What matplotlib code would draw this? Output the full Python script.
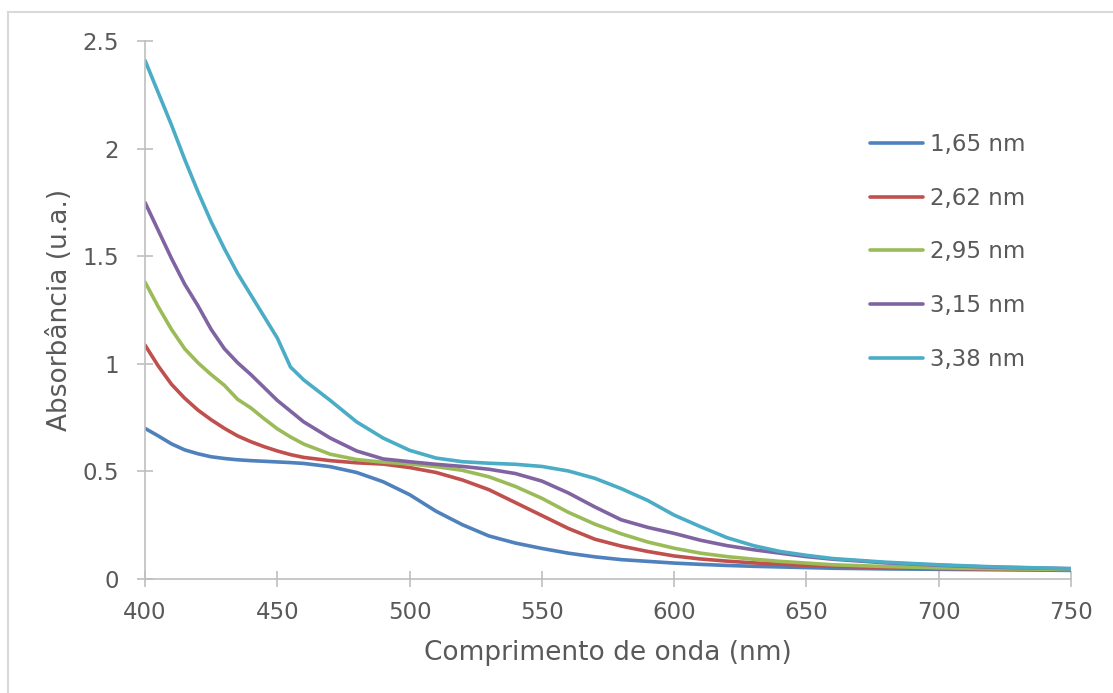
import matplotlib
matplotlib.use("Agg")
import matplotlib.pyplot as plt
from matplotlib.lines import Line2D

wavelength = [400, 405, 410, 415, 420, 425, 430, 435, 440, 445, 450, 455, 460,
              470, 480, 490, 500, 510, 520, 530, 540, 550, 560, 570, 580, 590,
              600, 610, 620, 630, 640, 650, 660, 680, 700, 720, 750]

abs_165 = [0.70, 0.665, 0.628, 0.600, 0.582, 0.568, 0.560, 0.554, 0.550, 0.547, 0.544, 0.541, 0.537,
           0.522, 0.495, 0.452, 0.392, 0.315, 0.252, 0.200, 0.167, 0.142, 0.120, 0.103, 0.090, 0.082,
           0.074, 0.068, 0.063, 0.059, 0.056, 0.053, 0.050, 0.047, 0.045, 0.043, 0.040]

abs_262 = [1.087, 0.990, 0.905, 0.840, 0.785, 0.740, 0.700, 0.665, 0.638, 0.615, 0.595, 0.578, 0.565,
           0.550, 0.540, 0.534, 0.518, 0.495, 0.460, 0.415, 0.355, 0.295, 0.235, 0.185, 0.153, 0.128,
           0.107, 0.093, 0.083, 0.075, 0.069, 0.063, 0.059, 0.053, 0.049, 0.046, 0.043]

abs_295 = [1.38, 1.265, 1.160, 1.070, 1.005, 0.950, 0.900, 0.835, 0.795, 0.745, 0.698, 0.660, 0.627,
           0.580, 0.555, 0.543, 0.535, 0.522, 0.505, 0.475, 0.430, 0.375, 0.310, 0.255, 0.210, 0.172,
           0.143, 0.120, 0.104, 0.092, 0.082, 0.074, 0.066, 0.058, 0.052, 0.048, 0.044]

abs_315 = [1.75, 1.620, 1.490, 1.370, 1.270, 1.160, 1.070, 1.005, 0.950, 0.890, 0.830, 0.780, 0.730,
           0.655, 0.595, 0.558, 0.545, 0.533, 0.523, 0.510, 0.490, 0.455, 0.400, 0.335, 0.275, 0.240,
           0.212, 0.180, 0.155, 0.136, 0.120, 0.104, 0.092, 0.075, 0.064, 0.055, 0.048]

abs_338 = [2.41, 2.260, 2.110, 1.950, 1.800, 1.660, 1.535, 1.420, 1.320, 1.220, 1.120, 0.985, 0.925,
           0.830, 0.730, 0.655, 0.598, 0.562, 0.545, 0.538, 0.533, 0.523, 0.502, 0.468, 0.420, 0.365,
           0.297, 0.243, 0.192, 0.155, 0.128, 0.110, 0.095, 0.078, 0.066, 0.057, 0.048]

labels = ["1,65 nm", "2,62 nm", "2,95 nm", "3,15 nm", "3,38 nm"]
series = [abs_165, abs_262, abs_295, abs_315, abs_338]
colors = ["#4F81BD", "#C0504D", "#9BBB59", "#8064A2", "#4BACC6"]

x_ticks = [400, 450, 500, 550, 600, 650, 700, 750]
y_ticks = [0, 0.5, 1, 1.5, 2, 2.5]
y_ticklabels = ["0", "0.5", "1", "1.5", "2", "2.5"]

W, H = 1113, 693
fig = plt.figure(figsize=(W / 100, H / 100), dpi=100)
ax = fig.add_axes([145 / W, 1 - 579 / H, (1071 - 145) / W, (579 - 41) / H])

for vals, lab, col in zip(series, labels, colors):
    ax.plot(wavelength, vals, color=col, lw=2.6, label=lab,
            solid_capstyle="round", solid_joinstyle="round")

ax.set_xlim(400, 750)
ax.set_ylim(0, 2.5)
ax.set_xticks(x_ticks)
ax.set_yticks(y_ticks)
ax.set_yticklabels(y_ticklabels)

grey = "#BFBFBF"
for s in ["top", "right"]:
    ax.spines[s].set_visible(False)
for s in ["left", "bottom"]:
    ax.spines[s].set_color(grey)
    ax.spines[s].set_linewidth(1.2)
ax.tick_params(axis="both", direction="inout", length=11, width=1.2, color=grey,
               labelsize=16.5, labelcolor="#595959")
ax.tick_params(axis="y", pad=13)
ax.tick_params(axis="x", pad=10)

ax.set_xlabel("Comprimento de onda (nm)", fontsize=19, color="#595959")
ax.set_ylabel("Absorbância (u.a.)", fontsize=19, color="#595959")
ax.xaxis.set_label_coords((608 - 145) / (1071 - 145), -(653 - 579) / (579 - 41))
ax.yaxis.set_label_coords(-(145 - 60) / (1071 - 145), (579 - 310) / (579 - 41))
ax.xaxis.label.set_va("center")
ax.yaxis.label.set_va("center")

leg = ax.legend(loc="upper left", bbox_to_anchor=(870 / W, 1 - 133 / H),
                bbox_transform=fig.transFigure, frameon=False, fontsize=16.5,
                handlelength=2.3, handletextpad=0.3, labelspacing=1.34, borderpad=0,
                borderaxespad=0)
for t in leg.get_texts():
    t.set_color("#595959")

fig.add_artist(Line2D([7.5 / W, 7.5 / W], [0, 1 - 11.5 / H], transform=fig.transFigure,
                      color="#D9D9D9", lw=1.5))
fig.add_artist(Line2D([7.5 / W, 1], [1 - 11.5 / H, 1 - 11.5 / H], transform=fig.transFigure,
                      color="#D9D9D9", lw=1.5))

fig.savefig("out.png", dpi=100, facecolor="white")
